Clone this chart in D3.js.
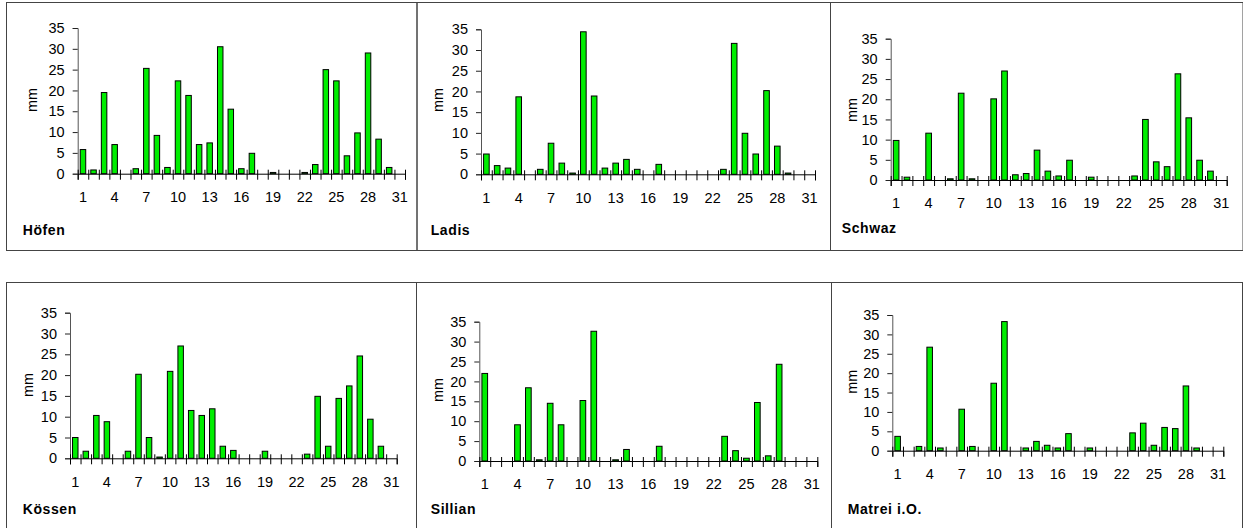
<!DOCTYPE html>
<html>
<head>
<meta charset="utf-8">
<script src="https://cdn.jsdelivr.net/npm/d3@7"></script>
<style>
  html, body { margin: 0; padding: 0; background: #fff; }
  svg { display: block; font-family: "Liberation Sans", Arial, sans-serif; }
</style>
</head>
<body>
<svg id="chart" width="1243" height="528"></svg>
<script>
// Daily precipitation (mm) per day of month, one array per station
const days = d3.range(1, 32);
const dayLabels = [1, 4, 7, 10, 13, 16, 19, 22, 25, 28, 31];
const yTicks = [0, 5, 10, 15, 20, 25, 30, 35];
const stations = ["Höfen", "Ladis", "Schwaz", "Kössen", "Sillian", "Matrei i.O."];

const hoefen  = [5.8, 0.9, 19.5, 7.0, 0, 1.2, 25.3, 9.2, 1.5, 22.3, 18.8, 7.0, 7.4, 30.5, 15.5, 1.2, 4.9, 0, 0.3, 0, 0, 0.3, 2.2, 25.0, 22.3, 4.3, 9.8, 29.0, 8.3, 1.5, 0];
const ladis   = [4.9, 2.1, 1.5, 18.7, 0, 1.2, 7.5, 2.7, 0.3, 34.4, 18.9, 1.5, 2.7, 3.6, 1.2, 0, 2.4, 0, 0, 0, 0, 0, 1.2, 31.6, 9.9, 4.9, 20.2, 6.8, 0.3, 0, 0];
const schwaz  = [9.8, 0.7, 0, 11.6, 0, 0.3, 21.5, 0.3, 0, 20.1, 27.0, 1.3, 1.6, 7.4, 2.2, 1.0, 4.9, 0, 0.7, 0, 0, 0, 1.0, 15.0, 4.5, 3.3, 26.3, 15.4, 4.9, 2.2, 0];
const koessen = [5.0, 1.7, 10.3, 8.8, 0, 1.7, 20.2, 5.0, 0.3, 20.9, 27.0, 11.5, 10.3, 11.9, 2.9, 1.9, 0, 0, 1.7, 0, 0, 0, 1.0, 14.9, 2.9, 14.4, 17.4, 24.6, 9.4, 2.9, 0];
const sillian = [22.0, 0, 0, 9.1, 18.4, 0.3, 14.5, 9.1, 0, 15.2, 32.6, 0, 0.3, 2.9, 0, 0, 3.7, 0, 0, 0, 0, 0, 6.2, 2.6, 0.7, 14.7, 1.3, 24.3, 0, 0, 0];
const matrei  = [3.7, 0, 1.1, 26.7, 0.7, 0, 10.7, 1.1, 0, 17.4, 33.3, 0, 0.7, 2.4, 1.4, 0.7, 4.4, 0, 0.7, 0, 0, 0, 4.6, 7.1, 1.4, 6.0, 5.7, 16.7, 0.7, 0, 0];
const series = [hoefen, ladis, schwaz, koessen, sillian, matrei];

// Frame and plot-area geometry of each small multiple
const layout = [
  { box: [6, 2, 410.5, 248],     x0: 77.7,  x1: 405,    yBase: 173.7, yTop: 28,    mm: [32, 100],      title: [22.7, 235] },
  { box: [416.5, 2, 413.5, 248], x0: 481,   x1: 815,    yBase: 174.3, yTop: 29.3,  mm: [438, 100],     title: [430.7, 235] },
  { box: [830, 2, 412.5, 248],   x0: 890.7, x1: 1226.7, yBase: 180,   yTop: 38.7,  mm: [852, 110],     title: [841.7, 233] },
  { box: [6, 282, 410, 260],     x0: 70,    x1: 396.7,  yBase: 458.3, yTop: 312.7, mm: [28, 385],      title: [22.7, 514] },
  { box: [416, 282, 415, 260],   x0: 479.3, x1: 817.3,  yBase: 461,   yTop: 321.7, mm: [438, 390],     title: [430.7, 514] },
  { box: [831, 282, 411, 260],   x0: 892.3, x1: 1223.3, yBase: 450.7, yTop: 315,   mm: [851.7, 381.7], title: [847.7, 513.5] }
];

const svg = d3.select("#chart");
const barFill = "#00ee00";
const fontSize = 14.5;

stations.forEach((name, i) => {
  const L = layout[i];
  const values = series[i];
  const g = svg.append("g");

  // panel frame
  g.append("rect")
    .attr("x", L.box[0] + 0.5).attr("y", L.box[1] + 0.5)
    .attr("width", L.box[2]).attr("height", L.box[3])
    .attr("fill", "none").attr("stroke", "#444").attr("stroke-width", 1);

  const x = d3.scaleBand().domain(days).range([L.x0, L.x1]).paddingInner(0.48).paddingOuter(0.24);
  const xEdge = d3.scaleLinear().domain([0, 31]).range([L.x0, L.x1]);
  const y = d3.scaleLinear().domain([0, 35]).range([L.yBase, L.yTop]);

  // bars
  g.append("g").selectAll("rect")
    .data(days.map((d, k) => ({ day: d, v: values[k] })).filter(d => d.v > 0))
    .join("rect")
    .attr("x", d => x(d.day))
    .attr("y", d => y(d.v))
    .attr("width", x.bandwidth())
    .attr("height", d => y(0) - y(d.v))
    .attr("fill", barFill)
    .attr("stroke", "#000")
    .attr("stroke-width", 1);

  // y axis
  const yAxis = g.append("g")
    .attr("transform", `translate(${L.x0},0)`)
    .call(d3.axisLeft(y).tickValues(yTicks).tickSize(5).tickPadding(8));
  yAxis.select(".domain").attr("stroke", "#555");
  yAxis.selectAll(".tick line").attr("stroke", "#222");
  yAxis.selectAll("text").attr("font-size", fontSize).attr("fill", "#000")
    .attr("font-family", "'Liberation Sans', Arial, sans-serif");

  // x axis: crossing ticks at day boundaries
  const xTicks = g.append("g")
    .attr("transform", `translate(0,${L.yBase})`)
    .call(d3.axisBottom(xEdge).tickValues(d3.range(32)).tickSize(6).tickFormat(""));
  xTicks.select(".domain").attr("stroke", "#000");
  xTicks.selectAll(".tick line").attr("y1", -4).attr("stroke", "#000");

  // x axis: day labels at bar centres
  const xLabels = g.append("g")
    .attr("transform", `translate(0,${L.yBase})`)
    .call(d3.axisBottom(x).tickValues(dayLabels).tickSize(0).tickPadding(18));
  xLabels.select(".domain").remove();
  xLabels.selectAll("text").attr("font-size", fontSize).attr("fill", "#000")
    .attr("font-family", "'Liberation Sans', Arial, sans-serif");

  // y-axis title
  g.append("text")
    .attr("transform", `translate(${L.mm[0]},${L.mm[1]}) rotate(-90)`)
    .attr("text-anchor", "middle")
    .attr("dominant-baseline", "central")
    .attr("font-size", fontSize)
    .text("mm");

  // station name
  g.append("text")
    .attr("x", L.title[0]).attr("y", L.title[1])
    .attr("font-size", 14).attr("font-weight", "bold")
    .attr("letter-spacing", 0.6)
    .text(name);
});
</script>
</body>
</html>
